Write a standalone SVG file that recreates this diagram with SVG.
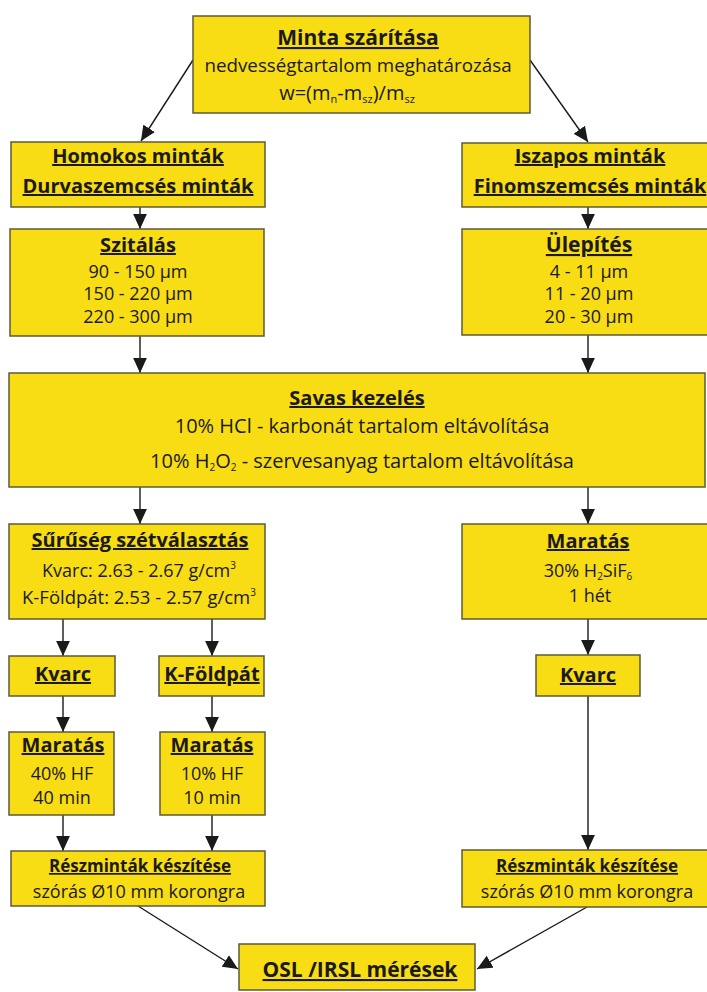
<svg xmlns="http://www.w3.org/2000/svg" width="707" height="992" viewBox="0 0 707 992">
<style>
.box{fill:#F8DC14;stroke:#5e5a3a;stroke-width:1.5}
text{font-family:"Open Sans","Lato",sans-serif;fill:#1a1a1a;text-anchor:middle}
.t{font-weight:bold;text-decoration:underline}
.b{font-size:18px}
.s{font-size:10px}
.c{stroke:#1a1a1a;stroke-width:1.4;fill:none;marker-end:url(#ah)}
</style>
<defs>
<marker id="ah" markerUnits="userSpaceOnUse" markerWidth="15" markerHeight="15" viewBox="0 0 12 12" refX="12" refY="6" orient="auto">
<path d="M0,0.5 L12,6 L0,11.5 z" fill="#1a1a1a"/>
</marker>
</defs>
<rect width="707" height="992" fill="#ffffff"/>
<g id="connectors">
<line class="c" x1="193" y1="60" x2="141" y2="141"/>
<line class="c" x1="530" y1="60" x2="588" y2="142"/>
<line class="c" x1="140" y1="207" x2="140" y2="229"/>
<line class="c" x1="588" y1="207" x2="588" y2="229"/>
<line class="c" x1="140" y1="336" x2="140" y2="373"/>
<line class="c" x1="588" y1="335" x2="588" y2="373"/>
<line class="c" x1="140" y1="487" x2="140" y2="524"/>
<line class="c" x1="588" y1="487" x2="588" y2="524"/>
<line class="c" x1="63" y1="619" x2="63" y2="656"/>
<line class="c" x1="212" y1="619" x2="212" y2="656"/>
<line class="c" x1="588" y1="619" x2="588" y2="655"/>
<line class="c" x1="63" y1="696" x2="63" y2="732"/>
<line class="c" x1="212" y1="696" x2="212" y2="732"/>
<line class="c" x1="63" y1="815" x2="63" y2="851"/>
<line class="c" x1="212" y1="815" x2="212" y2="851"/>
<line class="c" x1="588" y1="696" x2="588" y2="850"/>
<line class="c" x1="138" y1="906" x2="238" y2="969"/>
<line class="c" x1="587" y1="907" x2="477" y2="969"/>
</g>
<g id="minta">
<rect class="box" x="193" y="16" width="337" height="97"/>
<text class="t" x="358" y="45" font-size="21">Minta szárítása</text>
<text class="b" x="358" y="72" style="font-size:18.8px">nedvességtartalom meghatározása</text>
<text class="b" x="347" y="100" style="font-size:20px">w=(m<tspan class="s" dy="3" style="font-size:11px">n</tspan><tspan dy="-3">-m</tspan><tspan class="s" dy="3" style="font-size:11px">sz</tspan><tspan dy="-3">)/m</tspan><tspan class="s" dy="3" style="font-size:11px">sz</tspan></text>
</g>
<g id="homokos">
<rect class="box" x="11" y="142" width="254" height="65"/>
<text class="t" x="138" y="163" font-size="20">Homokos minták</text>
<text class="t" x="138" y="193" font-size="20">Durvaszemcsés minták</text>
</g>
<g id="iszapos">
<rect class="box" x="462" y="143" width="256" height="64"/>
<text class="t" x="590" y="163" font-size="20">Iszapos minták</text>
<text class="t" x="590" y="193" font-size="20">Finomszemcsés minták</text>
</g>
<g id="szitalas">
<rect class="box" x="10" y="229" width="254" height="107"/>
<text class="t" x="138" y="252" font-size="20">Szitálás</text>
<text class="b" x="138" y="278">90 - 150 µm</text>
<text class="b" x="138" y="300">150 - 220 µm</text>
<text class="b" x="138" y="323">220 - 300 µm</text>
</g>
<g id="ulepites">
<rect class="box" x="462" y="229" width="256" height="106"/>
<text class="t" x="589" y="252" font-size="21">Ülepítés</text>
<text class="b" x="589" y="278">4 - 11 µm</text>
<text class="b" x="589" y="300">11 - 20 µm</text>
<text class="b" x="589" y="323">20 - 30 µm</text>
</g>
<g id="savas">
<rect class="box" x="9" y="373" width="696" height="114"/>
<text class="t" x="357" y="405" font-size="20">Savas kezelés</text>
<text class="b" x="362" y="433" style="font-size:20px">10% HCl - karbonát tartalom eltávolítása</text>
<text class="b" x="362" y="468" style="font-size:20px">10% H<tspan class="s" dy="3">2</tspan><tspan dy="-3">O</tspan><tspan class="s" dy="3">2</tspan><tspan dy="-3"> - szervesanyag tartalom eltávolítása</tspan></text>
</g>
<g id="suruseg">
<rect class="box" x="9" y="524" width="256" height="95"/>
<text class="t" x="140" y="547" font-size="20">Sűrűség szétválasztás</text>
<text class="b" x="139" y="577">Kvarc: 2.63 - 2.67 g/cm<tspan class="s" dy="-8">3</tspan></text>
<text class="b" x="139" y="604" style="font-size:18.5px">K-Földpát: 2.53 - 2.57 g/cm<tspan class="s" dy="-8">3</tspan></text>
</g>
<g id="maratas-r">
<rect class="box" x="462" y="524" width="256" height="95"/>
<text class="t" x="588" y="548" font-size="20">Maratás</text>
<text class="b" x="588" y="577">30% H<tspan class="s" dy="3">2</tspan><tspan dy="-3">SiF</tspan><tspan class="s" dy="3">6</tspan></text>
<text class="b" x="590" y="602">1 hét</text>
</g>
<g id="kvarc-l">
<rect class="box" x="9" y="656" width="106" height="40"/>
<text class="t" x="63" y="681" font-size="20">Kvarc</text>
</g>
<g id="foldpat">
<rect class="box" x="159" y="656" width="105" height="40"/>
<text class="t" x="212" y="681" font-size="20">K-Földpát</text>
</g>
<g id="kvarc-r">
<rect class="box" x="536" y="655" width="104" height="41"/>
<text class="t" x="588" y="682" font-size="20">Kvarc</text>
</g>
<g id="maratas-l1">
<rect class="box" x="9" y="732" width="105" height="83"/>
<text class="t" x="63" y="752" font-size="20">Maratás</text>
<text class="b" x="62" y="780">40% HF</text>
<text class="b" x="62" y="804">40 min</text>
</g>
<g id="maratas-l2">
<rect class="box" x="160" y="732" width="105" height="83"/>
<text class="t" x="212" y="752" font-size="20">Maratás</text>
<text class="b" x="212" y="780">10% HF</text>
<text class="b" x="212" y="804">10 min</text>
</g>
<g id="reszmintak-l">
<rect class="box" x="11" y="851" width="254" height="55"/>
<text class="t" x="140" y="872" font-size="17">Részminták készítése</text>
<text class="b" x="139" y="898">szórás Ø10 mm korongra</text>
</g>
<g id="reszmintak-r">
<rect class="box" x="462" y="850" width="256" height="57"/>
<text class="t" x="587" y="872" font-size="17">Részminták készítése</text>
<text class="b" x="587" y="898">szórás Ø10 mm korongra</text>
</g>
<g id="osl">
<rect class="box" x="239" y="944" width="236" height="46"/>
<text class="t" x="360" y="977" font-size="21">OSL /IRSL mérések</text>
</g>
</svg>
